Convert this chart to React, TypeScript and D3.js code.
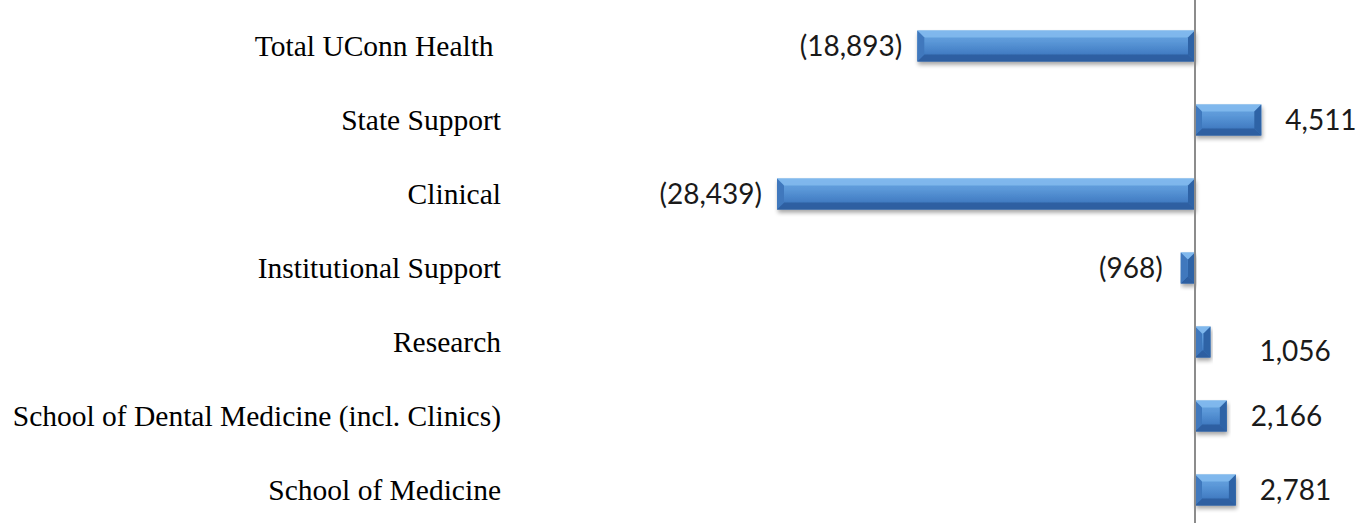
import React from "react";
import * as d3 from "d3";

const categories = [
  "Total UConn Health ",
  "State Support",
  "Clinical",
  "Institutional Support",
  "Research",
  "School of Dental Medicine (incl. Clinics)",
  "School of Medicine",
];
const values = [-18893, 4511, -28439, -968, 1056, 2166, 2781];
const valueLabels = ["(18,893)", "4,511", "(28,439)", "(968)", "1,056", "2,166", "2,781"];
const labelNudgeX = [0, 0, 0, -3, 25, 0, 0];
const labelNudgeY = [0, 0, 0, 0, 9, 0, 0];

const W = 1360;
const H = 523;

export default function App() {
  const x = d3.scaleLinear().domain([-28439, 4511]).range([777, 1261.3]);
  const y = d3.scaleBand().domain(categories).range([9, 527]).paddingInner(0.58).paddingOuter(0.29);
  const bh = y.bandwidth();
  const bev = 7;

  return (
    <div style={{ position: "absolute", left: 0, top: 0 }}>
      <svg width={W} height={H} style={{ display: "block" }}>
        <defs>
          <linearGradient id="barg" x1="0" y1="0" x2="0" y2="1">
            <stop offset="0" stopColor="#6aa6e2" />
            <stop offset="0.35" stopColor="#5b98d8" />
            <stop offset="0.7" stopColor="#4580c6" />
            <stop offset="1" stopColor="#3468ae" />
          </linearGradient>
          <filter id="sh" x="-10%" y="-30%" width="120%" height="180%">
            <feGaussianBlur in="SourceAlpha" stdDeviation="2" />
            <feOffset dx="1" dy="3" result="b" />
            <feComponentTransfer>
              <feFuncA type="linear" slope="0.35" />
            </feComponentTransfer>
            <feMerge>
              <feMergeNode />
              <feMergeNode in="SourceGraphic" />
            </feMerge>
          </filter>
        </defs>
        {categories.map((c, i) => {
          const v = values[i];
          const x0 = Math.min(x(0), x(v));
          const x1 = Math.max(x(0), x(v));
          const yt = y(c)!;
          const yb = yt + bh;
          const w = x1 - x0;
          const b = Math.min(bev, w / 2, bh / 2);
          return (
            <g key={c} filter="url(#sh)">
              <rect x={x0} y={yt} width={w} height={bh} fill="url(#barg)" />
              <polygon points={`${x0},${yt} ${x1},${yt} ${x1 - b},${yt + b} ${x0 + b},${yt + b}`} fill="#86bdf0" opacity={0.8} />
              <polygon points={`${x0},${yb} ${x1},${yb} ${x1 - b},${yb - b} ${x0 + b},${yb - b}`} fill="#2b5c9e" opacity={0.85} />
              <polygon points={`${x0},${yt} ${x0 + b},${yt + b} ${x0 + b},${yb - b} ${x0},${yb}`} fill="#3f78bd" />
              <polygon points={`${x1},${yt} ${x1 - b},${yt + b} ${x1 - b},${yb - b} ${x1},${yb}`} fill="#2f64a6" />
            </g>
          );
        })}
        <line x1={x(0)} x2={x(0)} y1={0} y2={H} stroke="#8c8c8c" strokeWidth={2} />
        {categories.map((c, i) => (
          <text
            key={"c" + i}
            x={501}
            y={y(c)! + bh / 2}
            dy="0.33em"
            textAnchor="end"
            fontFamily="'Liberation Serif', 'Times New Roman', serif"
            fontSize={29.5}
            fill="#000"
            style={{ whiteSpace: "pre" }}
            xmlSpace="preserve"
          >
            {c}
          </text>
        ))}
        {categories.map((c, i) => {
          const v = values[i];
          const neg = v < 0;
          return (
            <text
              key={"v" + i}
              x={neg ? x(v) - 15 + labelNudgeX[i] : x(v) + 24 + labelNudgeX[i]}
              y={y(c)! + bh / 2 + labelNudgeY[i]}
              dy="0.36em"
              textAnchor={neg ? "end" : "start"}
              fontFamily="Lato, 'Open Sans', sans-serif"
              fontSize={28}
              fill="#1a1a1a"
            >
              {valueLabels[i]}
            </text>
          );
        })}
      </svg>
    </div>
  );
}
